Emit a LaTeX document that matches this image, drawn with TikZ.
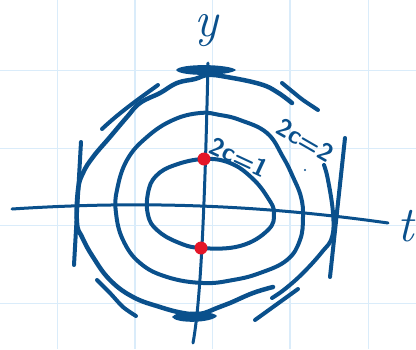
\documentclass[tikz,border=0pt]{standalone}
\usepackage{fontspec}
\definecolor{inkblue}{RGB}{10,80,140}
\definecolor{gridblue}{RGB}{218,236,250}
\definecolor{dotred}{RGB}{228,22,40}
\begin{document}
\begin{tikzpicture}[x=1pt,y=-1pt,
  ink/.style={draw=inkblue,line width=4pt,line cap=round,line join=round},
  axisline/.style={draw=inkblue,line width=3pt,line cap=round},
  gridline/.style={draw=gridblue,line width=1.3pt},
  reddot/.style={circle,fill=dotred,inner sep=0pt,minimum size=13pt},
  bigletter/.style={text=inkblue,font=\fontsize{50}{50}\selectfont\itshape,inner sep=0pt},
  smalllabel/.style={text=inkblue,font=\sffamily\bfseries\fontsize{25}{25}\selectfont,inner sep=0pt}]
\useasboundingbox (0,0) rectangle (416,349);
\fill[white] (0,0) rectangle (416,349);
% grid
\foreach \x in {57.3,135,212.3,290,368.3} \draw[gridline] (\x,0) -- (\x,349);
\foreach \y in {70.7,148.3,225.7,303.3} \draw[gridline] (0,\y) -- (416,\y);
% axes
\coordinate (tL) at (12,209);
\coordinate (tR) at (388,223);
\coordinate (yT) at (208,63);
\coordinate (yB) at (193,343);
\draw[axisline] (tL) .. controls (120,202) and (240,202) .. (tR);
\draw[axisline] (yT) .. controls (205,200) and (201,300) .. (yB);
% bars on y axis
\fill[inkblue] (176,70) .. controls (180,63) and (230,64) .. (236,70) .. controls (230,76) and (180,77) .. (176,70);
\fill[inkblue] (172,317) .. controls (176,310) and (212,310) .. (217,316) .. controls (212,323) and (176,324) .. (172,317);
% inner contour
\draw[ink] plot[smooth cycle, tension=0.7] coordinates {(204,159) (230,163) (252,178) (268,198) (274,213) (268,230) (240,246) (201,248) (177,242) (157,230) (148,215) (148,193) (156,176) (175,165)};
% middle contour
\draw[ink] plot[smooth cycle, tension=0.7] coordinates {(200,113) (220,115) (240,120) (267,133) (283,157) (293,177) (301,197) (303,217) (300,240) (287,260) (260,273) (233,280) (203,283) (167,277) (140,263) (123,240) (116,213) (117,190) (127,160) (147,137) (173,120)};
% outer contour
\draw[ink,line width=4.5pt] plot[smooth, tension=0.7] coordinates {(292,103) (277,92) (260,84) (227,77) (208,75) (195,79) (177,83) (160,93) (140,103) (127,117) (110,137) (93,157) (83,173) (78,190) (77,223) (82,237) (93,257) (110,280) (133,297) (160,307) (183,313) (200,314) (217,308) (230,303) (253,293) (273,287)};
\draw[ink] plot[smooth, tension=0.7] coordinates {(324,165) (328,180) (333,213) (332,237) (322,252) (303,273) (285,289) (272,298)};
% tangent strokes
\coordinate (lv1) at (81,142); \coordinate (lv2) at (74,265);
\coordinate (rv1) at (345,138); \coordinate (rv2) at (330,277);
\draw[ink] (lv1) -- (lv2);
\draw[ink] (rv1) -- (rv2);
\draw[ink] (102,129) .. controls (120,112) and (140,98) .. (158,85);
\draw[ink] plot[smooth] coordinates {(282,83) (293,92) (303,100) (318,110)};
\draw[ink] plot[smooth] coordinates {(97,280) (110,293) (123,307) (136,316)};
\draw[ink] (255,320) -- (298,289);
% red points
\node[reddot] (p1) at (204,159) {};
\node[reddot] (p2) at (201,248) {};
% labels
\node[bigletter] (ylab) at (206,31) {y};
\node[bigletter] (tlab) at (406,226) {t};
\node[smalllabel,rotate=-25] (c1) at (239,157) {2c=1};
\node[smalllabel,rotate=-30] (c2) at (305,140) {2c=2};
\fill[inkblue] (305,170) circle (1.2);
\end{tikzpicture}
\end{document}
